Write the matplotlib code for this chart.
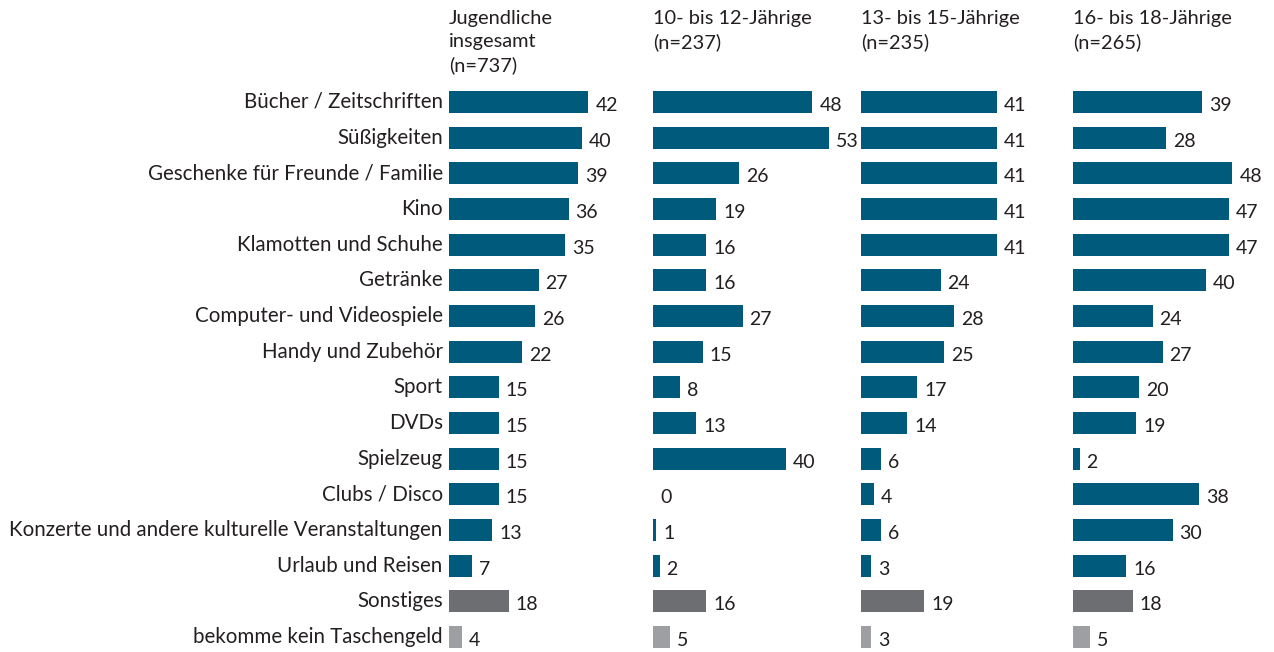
import matplotlib
matplotlib.use("Agg")
import matplotlib.pyplot as plt

plt.rcParams["font.family"] = ["Lato", "DejaVu Sans"]

categories = [
    "Bücher / Zeitschriften", "Süßigkeiten", "Geschenke für Freunde / Familie",
    "Kino", "Klamotten und Schuhe", "Getränke", "Computer- und Videospiele",
    "Handy und Zubehör", "Sport", "DVDs", "Spielzeug", "Clubs / Disco",
    "Konzerte und andere kulturelle Veranstaltungen", "Urlaub und Reisen",
    "Sonstiges", "bekomme kein Taschengeld",
]
headers = [
    "Jugendliche\ninsgesamt\n(n=737)",
    "10- bis 12-Jährige\n(n=237)",
    "13- bis 15-Jährige\n(n=235)",
    "16- bis 18-Jährige\n(n=265)",
]
total   = [42, 40, 39, 36, 35, 27, 26, 22, 15, 15, 15, 15, 13, 7, 18, 4]
age_10  = [48, 53, 26, 19, 16, 16, 27, 15, 8, 13, 40, 0, 1, 2, 16, 5]
age_13  = [41, 41, 41, 41, 41, 24, 28, 25, 17, 14, 6, 4, 6, 3, 19, 3]
age_16  = [39, 28, 48, 47, 47, 40, 24, 27, 20, 19, 2, 38, 30, 16, 18, 5]
panels = [total, age_10, age_13, age_16]

BLUE, DARK_GRAY, LIGHT_GRAY = "#005a7c", "#6d6e71", "#9d9fa2"
TEXT = "#231f20"
row_colors = [BLUE] * 14 + [DARK_GRAY, LIGHT_GRAY]

W, H = 1274, 652
PX_PER_UNIT = 3.32
ROW_TOP, ROW_STEP = 102, 35.67        # pixel centre of first row, row spacing
panel_left = [449, 653, 861, 1073]    # pixel x where each panel's bars start
panel_units = 58

fig = plt.figure(figsize=(W / 100, H / 100), dpi=100)

top_px = ROW_TOP - ROW_STEP / 2
y_bottom = (H - ROW_TOP) / ROW_STEP
rows = range(len(categories))

for i, (vals, left) in enumerate(zip(panels, panel_left)):
    ax = fig.add_axes([left / W, 0, panel_units * PX_PER_UNIT / W, (H - top_px) / H])
    ax.barh(rows, vals, height=0.62, color=row_colors)
    ax.set_xlim(0, panel_units)
    ax.set_ylim(y_bottom, -0.5)
    ax.axis("off")
    for r, v in zip(rows, vals):
        ax.annotate(str(v), (v, r), xytext=(5, -2.5), textcoords="offset points",
                    ha="left", va="center", fontsize=14, color=TEXT)
    fig.text(left / W, 1 - 10 / H, headers[i], ha="left", va="top",
             fontsize=14.4, color=TEXT, linespacing=1.42)
    if i == 0:
        for r, name in zip(rows, categories):
            ax.annotate(name, (0, r), xytext=(-4.5, 0), textcoords="offset points",
                        ha="right", va="center", fontsize=14.8, color=TEXT)

fig.savefig("out.png", dpi=100)
